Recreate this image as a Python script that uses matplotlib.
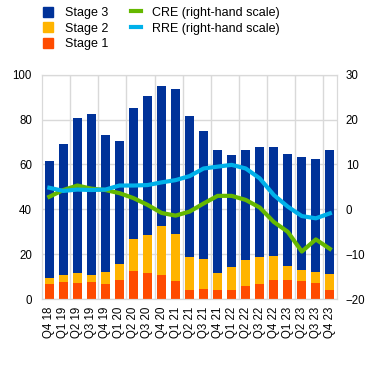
import numpy as np
import matplotlib
matplotlib.use('Agg')
from matplotlib import pyplot as plt
from matplotlib.patches import Patch
from matplotlib.lines import Line2D

plt.rcParams['font.family'] = ['Liberation Sans', 'DejaVu Sans']

quarters = ['Q4 18', 'Q1 19', 'Q2 19', 'Q3 19', 'Q4 19', 'Q1 20', 'Q2 20', 'Q3 20',
            'Q4 20', 'Q1 21', 'Q2 21', 'Q3 21', 'Q4 21', 'Q1 22', 'Q2 22', 'Q3 22',
            'Q4 22', 'Q1 23', 'Q2 23', 'Q3 23', 'Q4 23']
# stacked levels (cumulative tops)
stage1 = [6.8, 7.7, 7.3, 7.7, 6.8, 8.6, 12.6, 11.7, 10.8, 8.2, 4.2, 4.6, 4.2, 4.2,
          5.9, 6.8, 8.6, 8.6, 8.2, 7.3, 4.2]
stage12_top = [9.5, 10.7, 11.7, 10.7, 12.2, 15.7, 26.7, 28.7, 32.7, 29.1, 18.9, 17.8,
               11.7, 14.4, 17.4, 18.7, 19.3, 14.8, 13.1, 12.2, 11.3]
total = [61.7, 69.2, 80.7, 82.6, 73.1, 70.4, 85.2, 90.6, 95.1, 93.8, 81.7, 74.9,
         66.4, 64.2, 66.4, 67.8, 67.8, 64.6, 63.3, 62.4, 66.4]
cre = [2.8, 4.3, 5.3, 4.6, 4.3, 3.6, 2.5, 1.0, -0.8, -1.4, -0.5, 1.3, 3.0, 3.0,
       2.1, 0.4, -2.8, -5.0, -9.4, -6.7, -8.8]
rre = [4.8, 4.1, 4.4, 4.3, 4.4, 5.3, 5.3, 5.4, 6.0, 6.5, 7.4, 9.1, 9.5, 9.9,
       9.1, 6.9, 3.2, 0.6, -1.5, -2.0, -0.9]

stage1 = np.array(stage1)
stage2 = np.array(stage12_top) - stage1
stage3 = np.array(total) - np.array(stage12_top)

c3, c2, c1 = '#003299', '#FFB400', '#FF4B00'
ccre, crre = '#65B800', '#00B1EA'

fig = plt.figure(figsize=(3.71, 3.73), dpi=100)
ax = fig.add_axes([0.114, 0.198, 0.794, 0.602])
x = np.arange(len(quarters))
w = 0.64
ax.bar(x, stage1, w, color=c1, zorder=2)
ax.bar(x, stage2, w, bottom=stage1, color=c2, zorder=2)
ax.bar(x, stage3, w, bottom=stage1 + stage2, color=c3, zorder=2)

ax.set_xlim(-0.5, len(quarters) - 0.5)
ax.set_ylim(0, 100)
ax.set_yticks(range(0, 101, 20))
ax.set_xticks(x)
ax.set_xticklabels(quarters, rotation=90)
ax.tick_params(axis='y', length=0, labelsize=8.3, pad=7.5)
ax.tick_params(axis='x', length=0, labelsize=8.3, pad=5.5)
ax.set_xticks(np.arange(1.5, len(quarters) - 1, 2), minor=True)
ax.tick_params(which='minor', length=0)
ax.grid(axis='y', color='#d9d9d9', lw=1, zorder=0)
ax.grid(axis='x', which='minor', color='#d9d9d9', lw=1, zorder=0)
for s in ax.spines.values():
    s.set_color('#d9d9d9')

ax2 = ax.twinx()
ax2.plot(x, cre, color=ccre, lw=3, zorder=3)
ax2.plot(x, rre, color=crre, lw=3, zorder=3)
ax2.set_ylim(-20, 30)
ax2.set_yticks(range(-20, 31, 10))
ax2.tick_params(length=0, labelsize=8.3, pad=6.5)
for s in ax2.spines.values():
    s.set_color('#d9d9d9')

handles = [Patch(color=c3, label='Stage 3'), Patch(color=c2, label='Stage 2'),
           Patch(color=c1, label='Stage 1'),
           Line2D([], [], color=ccre, lw=3, label='CRE (right-hand scale)'),
           Line2D([], [], color=crre, lw=3, label='RRE (right-hand scale)')]
fig.legend(handles=handles, ncol=2, loc='upper left', bbox_to_anchor=(0.085, 1.012),
           frameon=False, fontsize=9, handlelength=0.85, handleheight=0.85,
           columnspacing=1.8, labelspacing=0.25, handletextpad=0.9)

fig.savefig('out.png', dpi=100)
